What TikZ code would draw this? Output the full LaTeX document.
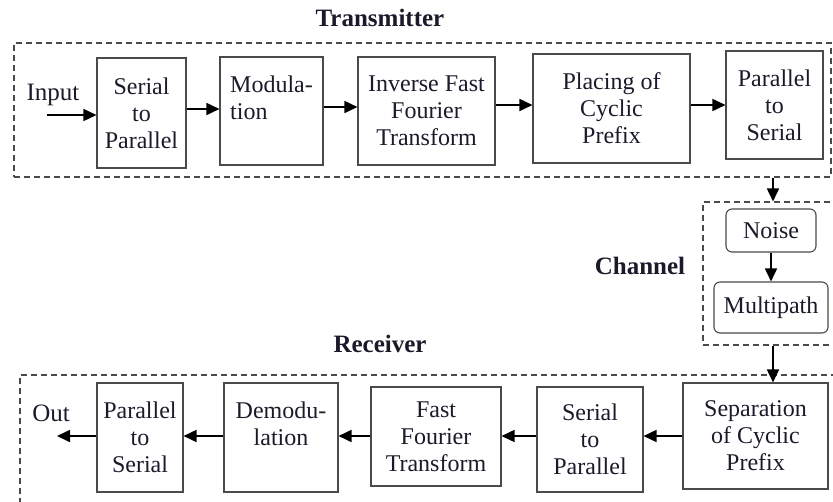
\documentclass[tikz,border=0pt]{standalone}
\usepackage{fontspec}
\setmainfont{Liberation Serif}
\usetikzlibrary{arrows.meta}
\definecolor{boxline}{HTML}{4A4A4A}
\definecolor{txt}{HTML}{1A1A2A}
\tikzset{
  blk/.style={draw=boxline, line width=1.1pt, inner sep=0pt, align=center,
    font=\fontsize{24}{27}\selectfont, text=txt},
  rblk/.style={blk, rounded corners=6pt},
  grp/.style={draw=boxline, line width=1.1pt, dash pattern=on 6pt off 4pt, inner sep=0pt},
  ttl/.style={font=\fontsize{25}{28}\selectfont\bfseries, text=txt, inner sep=0pt},
  lbl/.style={font=\fontsize{25}{28}\selectfont, text=txt, inner sep=0pt},
  arr/.style={-{Triangle[length=13pt,width=12pt]}, line width=1.7pt, black},
}
\begin{document}
\begin{tikzpicture}[x=1pt,y=-1pt]
\useasboundingbox (0,0) rectangle (833,501);
\clip (0,0) rectangle (833,501);
% groups
\node[grp, minimum width=817, minimum height=134] (tx) at (422.5,110) {};
\node[grp, minimum width=137, minimum height=143] (ch) at (771.5,273.5) {};
\node[grp, minimum width=820, minimum height=137] (rx) at (430,443.5) {};
% titles
\node[ttl] (ttx) at (380,18) {Transmitter};
\node[ttl] (tch) at (640,266) {Channel};
\node[ttl] (trx) at (380,344) {Receiver};
% transmitter
\node[blk, minimum width=89, minimum height=110] (sp1) at (141.5,113) {Serial\\to\\Parallel};
\node[blk, minimum width=103, minimum height=108, align=left] (mod) at (271.5,111) {Modula-\\tion\\ };
\node[blk, minimum width=137, minimum height=108] (ifft) at (426.5,111) {Inverse Fast\\Fourier\\Transform};
\node[blk, minimum width=157, minimum height=109] (pcp) at (611.5,108.5) {Placing of\\Cyclic\\Prefix};
\node[blk, minimum width=97, minimum height=108] (ps1) at (774.5,105) {Parallel\\to\\Serial};
\node[lbl] (inp) at (53,95) {Input};
\coordinate (inc) at (47,115);
% channel
\node[rblk, minimum width=90, minimum height=43] (noise) at (771,230.5) {Noise};
\node[rblk, minimum width=114, minimum height=51] (mp) at (771,307.5) {Multipath};
% receiver
\node[blk, minimum width=145, minimum height=106] (sep) at (755.5,436) {Separation\\of Cyclic\\Prefix};
\node[blk, minimum width=106, minimum height=105] (sp2) at (590,439.5) {Serial\\to\\Parallel};
\node[blk, minimum width=130, minimum height=99] (fft) at (436,436.5) {Fast\\Fourier\\Transform};
\node[blk, minimum width=114, minimum height=109] (dem) at (281,437.5) {Demodu-\\lation\\ };
\node[blk, minimum width=86, minimum height=109] (ps2) at (140,437.5) {Parallel\\to\\Serial};
\node[lbl] (outl) at (51,413) {Out};
\coordinate (outc) at (57,436);
% arrows transmitter
\draw[arr] (inc) -- (inc -| sp1.west);
\draw[arr] (sp1.east |- 0,109) -- (mod.west |- 0,109);
\draw[arr] (mod.east |- 0,107) -- (ifft.west |- 0,107);
\draw[arr] (ifft.east |- 0,105) -- (pcp.west |- 0,105);
\draw[arr] (pcp.east |- 0,105) -- (ps1.west |- 0,105);
% channel arrows
\draw[arr] (tx.south -| 773,0) -- (ch.north -| 773,0);
\draw[arr] (noise.south) -- (mp.north);
\draw[arr] (ch.south -| 773,0) -- (sep.north -| 773,0);
% receiver arrows
\draw[arr] (sep.west |- 0,436) -- (sp2.east |- 0,436);
\draw[arr] (sp2.west |- 0,436) -- (fft.east |- 0,436);
\draw[arr] (fft.west |- 0,436) -- (dem.east |- 0,436);
\draw[arr] (dem.west |- 0,436) -- (ps2.east |- 0,436);
\draw[arr] (ps2.west |- outc) -- (outc);
\end{tikzpicture}
\end{document}
